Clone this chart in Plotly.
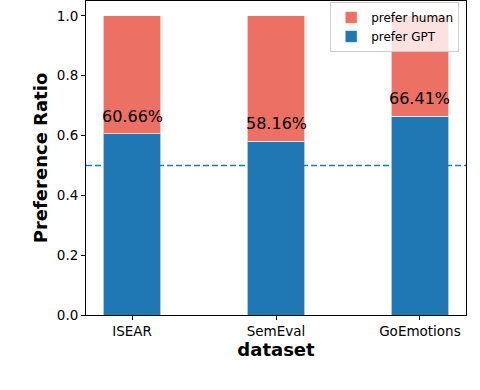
import plotly.graph_objects as go

datasets = ["ISEAR", "SemEval", "GoEmotions"]
prefer_gpt = [0.6066, 0.5816, 0.6641]
prefer_human = [0.3934, 0.4184, 0.3359]
y_ticks = [0.0, 0.2, 0.4, 0.6, 0.8, 1.0]

blue = "#1f77b4"
red = "#ec7063"
font = "DejaVu Sans"

x_pos = list(range(len(datasets)))

fig = go.Figure()

# blue part first so it sits at the bottom of the stack
fig.add_trace(go.Bar(
    x=x_pos, y=prefer_gpt, width=0.4, name="prefer GPT",
    marker=dict(color=blue, line=dict(color="rgba(255,255,255,0.6)", width=1)),
))
fig.add_trace(go.Bar(
    x=x_pos, y=prefer_human, width=0.4, name="prefer human",
    marker=dict(color=red, line=dict(color="rgba(255,255,255,0.6)", width=1)),
))

# percentage labels just above the blue bars
for i, v in zip(x_pos, prefer_gpt):
    fig.add_annotation(
        x=i, y=v, text=f"{v * 100:.2f}%", showarrow=False,
        yanchor="bottom", yshift=6, font=dict(family=font, size=16, color="black"),
    )

# 50% reference line
fig.add_shape(
    type="line", xref="paper", x0=0, x1=1, yref="y", y0=0.5, y1=0.5,
    line=dict(color=blue, width=1.5, dash="6px,3px"),
)

fig.update_layout(
    width=480, height=390,
    margin=dict(l=86, r=14, t=1, b=75),
    barmode="stack",
    plot_bgcolor="white", paper_bgcolor="white",
    font=dict(family=font, size=13.5, color="black"),
    legend=dict(
        x=0.982, y=0.997, xanchor="right", yanchor="top",
        traceorder="reversed", font=dict(size=12),
        bgcolor="rgba(255,255,255,0.8)", bordercolor="#cccccc", borderwidth=1,
        itemwidth=30, tracegroupgap=0,
    ),
    xaxis=dict(
        range=[-0.32, 2.32], tickvals=x_pos, ticktext=datasets, automargin=False,
        showline=True, linecolor="black", linewidth=1, mirror=True,
        ticks="outside", ticklen=4, tickcolor="black", showgrid=False,
        title=dict(text="<b>dataset</b>", font=dict(size=18), standoff=2),
    ),
    yaxis=dict(
        range=[0, 1.05], tickvals=y_ticks, tickformat=".1f", automargin=False,
        showline=True, linecolor="black", linewidth=1, mirror=True,
        ticks="outside", ticklen=4, tickcolor="black", showgrid=False, zeroline=False,
        title=dict(text="<b>Preference Ratio</b>", font=dict(size=18), standoff=4),
    ),
)

# drop the browser's default page margin so the figure sits at the window corner
fig.write_html(
    "out.html",
    config={"displayModeBar": False},
    post_script="document.body.style.margin = '0';",
)
